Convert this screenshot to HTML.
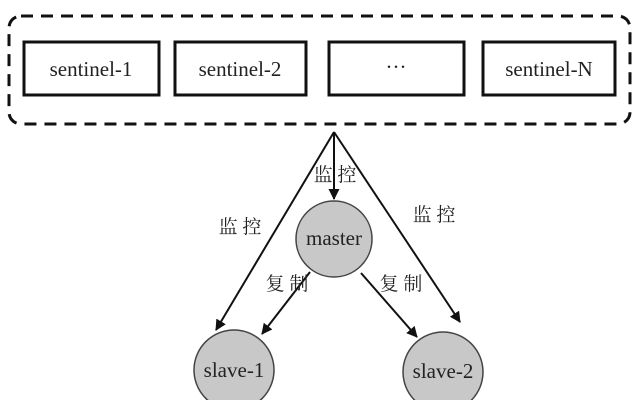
<!DOCTYPE html>
<html><head><meta charset="utf-8"><style>
body{margin:0;background:#fff}
text{font-family:"Liberation Serif","Noto Serif CJK SC",serif;fill:#222}
.c{font-family:"Noto Serif CJK SC","WenQuanYi Zen Hei",serif;font-size:19px}
</style></head><body>
<svg width="640" height="400" xmlns="http://www.w3.org/2000/svg">
<defs><marker id="a" markerWidth="11" markerHeight="11" refX="10" refY="5.5" orient="auto" markerUnits="userSpaceOnUse"><path d="M0,0 L11,5.5 L0,11 Z" fill="#111"/></marker></defs>
<rect x="9" y="16" width="621" height="108" rx="12" fill="none" stroke="#111" stroke-width="3" stroke-dasharray="12,8"/>
<g fill="none" stroke="#111" stroke-width="3">
<rect x="24" y="42" width="135" height="53"/>
<rect x="175" y="42" width="131" height="53"/>
<rect x="329" y="42" width="135" height="53"/>
<rect x="483" y="42" width="132" height="53"/>
</g>
<g font-size="21" text-anchor="middle">
<text x="91" y="76">sentinel-1</text>
<text x="240" y="76">sentinel-2</text>
<text x="396" y="74">···</text>
<text x="549" y="76">sentinel-N</text>
</g>
<g stroke="#111" stroke-width="2" marker-end="url(#a)">
<line x1="334" y1="132" x2="334" y2="199"/>
<line x1="334" y1="132" x2="216" y2="330"/>
<line x1="334" y1="132" x2="460" y2="322"/>
<line x1="310" y1="272" x2="262" y2="334"/>
<line x1="361" y1="273" x2="417" y2="337"/>
</g>
<g fill="#c8c8c8" stroke="#444" stroke-width="1.5">
<circle cx="334" cy="239" r="38"/>
<circle cx="234" cy="370" r="40"/>
<circle cx="443" cy="372" r="40"/>
</g>
<g font-size="21" text-anchor="middle">
<text x="334" y="245">master</text>
<text x="234" y="377">slave-1</text>
<text x="443" y="378">slave-2</text>
</g>
<g class="c" text-anchor="middle">
<text x="335" y="181">监 控</text>
<text x="240" y="233">监 控</text>
<text x="434" y="221">监 控</text>
<text x="287" y="290">复 制</text>
<text x="401" y="290">复 制</text>
</g>
</svg>
</body></html>
